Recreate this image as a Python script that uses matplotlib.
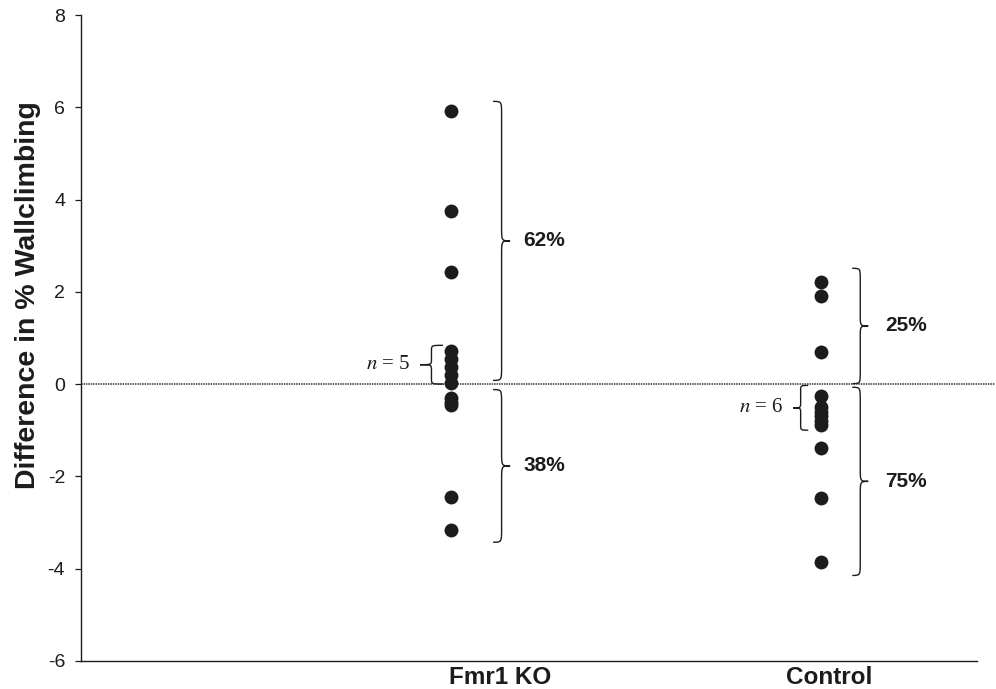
import numpy as np
import matplotlib
matplotlib.use("Agg")
import matplotlib.pyplot as plt
from matplotlib.path import Path
from matplotlib.patches import PathPatch
from matplotlib.transforms import blended_transform_factory

groups = ["Fmr1 KO", "Control"]
fmr1_values = [5.93, 3.76, 2.43, 0.72, 0.54, 0.36, 0.19, 0.02,
               -0.31, -0.39, -0.46, -2.45, -3.16]
control_values = [2.22, 1.90, 0.70, -0.25, -0.50, -0.60, -0.70, -0.80,
                  -0.89, -1.38, -2.48, -3.86]
yticks = [-6, -4, -2, 0, 2, 4, 6, 8]

plt.rcParams['font.family'] = ['Liberation Sans', 'DejaVu Sans']
plt.rcParams['mathtext.fontset'] = 'stix'
INK = '#1c1c1c'

fig = plt.figure(figsize=(9.96, 6.89), dpi=100)
ax = fig.add_axes([0.0813, 0.041, 0.9, 0.937])

positions = [1, 2]
for pos, vals in zip(positions, [fmr1_values, control_values]):
    ax.plot([pos] * len(vals), vals, 'o', color=INK, markersize=10,
            markeredgewidth=0, zorder=3)

ax.set_xlim(0, 2.422)
ax.set_ylim(-6, 8)
ax.set_yticks(yticks)
ax.set_yticklabels([str(t) for t in yticks], fontsize=14, color=INK)
ax.tick_params(axis='y', direction='out', length=4.5, width=0.9, pad=7, colors=INK)
ax.set_xticks([])
for s in ['top', 'right']:
    ax.spines[s].set_visible(False)
for s in ['left', 'bottom']:
    ax.spines[s].set_linewidth(1.0)
    ax.spines[s].set_color(INK)

# zero reference line (dotted), extending to figure edge
ax.plot([0, 2.47], [0, 0], linestyle=(0, (1, 0.6)), color='#333333',
        linewidth=1.1, clip_on=False, zorder=2)

ax.set_ylabel("Difference in % Wallclimbing", fontsize=20.5, fontweight='bold',
              color=INK)
ax.yaxis.set_label_coords(-0.0445, 0.566)

trans = blended_transform_factory(ax.transData, ax.transAxes)
label_offsets = [0.132, 0.022]
for pos, off, name in zip(positions, label_offsets, groups):
    ax.text(pos + off, -0.026, name, transform=trans, ha='center', va='center',
            fontsize=17.5, fontweight='bold', color=INK)


def brace(ax, x, y0, y1, w, facing='right', r=0.17):
    """Curly brace spanning y0..y1 at x; w = horizontal depth (data units)."""
    sgn = 1 if facing == 'right' else -1
    xm = x + sgn * w * 0.5
    xt = x + sgn * w
    ymid = (y0 + y1) / 2
    verts = [
        (x, y1),
        (xm, y1), (xm, y1), (xm, y1 - r),
        (xm, ymid + r),
        (xm, ymid), (xm, ymid), (xt, ymid),
        (xm, ymid), (xm, ymid), (xm, ymid - r),
        (xm, y0 + r),
        (xm, y0), (xm, y0), (x, y0),
    ]
    codes = [Path.MOVETO,
             Path.CURVE4, Path.CURVE4, Path.CURVE4,
             Path.LINETO,
             Path.CURVE4, Path.CURVE4, Path.CURVE4,
             Path.CURVE4, Path.CURVE4, Path.CURVE4,
             Path.LINETO,
             Path.CURVE4, Path.CURVE4, Path.CURVE4]
    ax.add_patch(PathPatch(Path(verts, codes), fill=False, edgecolor=INK,
                           linewidth=1.0, clip_on=False, zorder=2))


def pct(vals, above):
    v = np.array(vals)
    n = np.sum(v > 0) if above else np.sum(v < 0)
    return f"{round(100 * n / len(v))}%"


# Fmr1 KO braces
brace(ax, 1.1135, 0.08, max(fmr1_values) + 0.2, 0.046, r=0.3)
brace(ax, 1.1135, min(fmr1_values) - 0.27, -0.12, 0.046, r=0.3)
ax.text(1.195, (0.08 + max(fmr1_values) + 0.2) / 2, pct(fmr1_values, True),
        fontsize=15, fontweight='bold', color=INK, va='center', ha='left')
ax.text(1.195, (min(fmr1_values) - 0.27 - 0.12) / 2, pct(fmr1_values, False),
        fontsize=15, fontweight='bold', color=INK, va='center', ha='left')

# Control braces
brace(ax, 2.084, 0.01, max(control_values) + 0.29, 0.043, r=0.25)
brace(ax, 2.084, min(control_values) - 0.29, -0.07, 0.043, r=0.3)
ax.text(2.173, (0.01 + max(control_values) + 0.29) / 2, pct(control_values, True),
        fontsize=15, fontweight='bold', color=INK, va='center', ha='left')
ax.text(2.173, (min(control_values) - 0.29 - 0.07) / 2, pct(control_values, False),
        fontsize=15, fontweight='bold', color=INK, va='center', ha='left')

# small cluster braces
f = np.array(fmr1_values)
cl5 = f[(f >= 0) & (f < 1)]
brace(ax, 0.978, 0.0, cl5.max() + 0.12, 0.062, facing='left', r=0.12)
ax.text(0.889, (cl5.max() + 0.12) / 2, f"$n$ = {len(cl5)}",
        family=['Liberation Serif', 'DejaVu Serif'], fontsize=15,
        color=INK, ha='right', va='center')

c = np.array(control_values)
cl6 = c[(c < 0) & (c > -1)]
brace(ax, 1.965, cl6.min() - 0.11, -0.03, 0.041, facing='left', r=0.12)
ax.text(1.897, (cl6.min() - 0.11 - 0.03) / 2, f"$n$ = {len(cl6)}",
        family=['Liberation Serif', 'DejaVu Serif'], fontsize=15,
        color=INK, ha='right', va='center')

fig.savefig("out.png", dpi=100)
